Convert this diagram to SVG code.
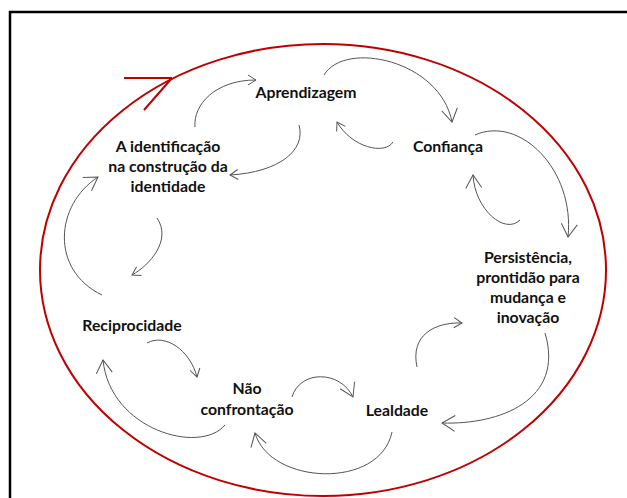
<svg xmlns="http://www.w3.org/2000/svg" width="627" height="498" viewBox="0 0 627 498">
<style>
.lbl{font-family:Lato,"Open Sans","Liberation Sans",sans-serif;font-weight:700;font-size:15.8px;fill:#111;text-anchor:middle}
.arc{fill:none;stroke:#555;stroke-width:1}
.head{fill:none;stroke:#555;stroke-width:1}
</style>
<defs>
<marker id="hs" markerUnits="userSpaceOnUse" orient="auto" overflow="visible" markerWidth="1" markerHeight="1">
<path class="head" d="M-8,-5 L0,0 L-8,5"/>
</marker>
<marker id="hl" markerUnits="userSpaceOnUse" orient="auto" overflow="visible" markerWidth="1" markerHeight="1">
<path class="head" d="M-13,-8 L0,0 L-13,8"/>
</marker>
</defs>
<rect x="0" y="0" width="627" height="498" fill="#fff"/>
<rect x="10" y="12" width="640" height="520" fill="none" stroke="#000" stroke-width="2.5"/>
<ellipse cx="323" cy="270" rx="283" ry="226" fill="none" stroke="#c00000" stroke-width="2"/>
<g id="start-arrow" fill="none" stroke="#c00000" stroke-width="2">
<path d="M124,78 L172,78 M144,110 L172,78"/>
</g>
<g id="connectors">
<path class="arc" marker-end="url(#hs)" d="M195,127 C193,105 215,80 256,80"/>
<path class="arc" marker-end="url(#hs)" d="M299,125 C306,150 280,172 230,175"/>
<path class="arc" marker-end="url(#hl)" d="M324,75 C345,40 440,60 452,122"/>
<path class="arc" marker-end="url(#hs)" d="M393,142 C385,155 352,148 337,122"/>
<path class="arc" marker-end="url(#hl)" d="M475,135 C520,115 575,170 568,237"/>
<path class="arc" marker-end="url(#hl)" d="M520,220 C505,235 475,210 473,175"/>
<path class="arc" marker-end="url(#hl)" d="M102,295 C50,270 55,205 98,177"/>
<path class="arc" marker-end="url(#hs)" d="M157,218 C172,240 150,265 132,275"/>
<path class="arc" marker-end="url(#hs)" d="M147,343 C165,333 190,350 197,377"/>
<path class="arc" marker-end="url(#hl)" d="M225,425 C200,455 110,430 103,360"/>
<path class="arc" marker-end="url(#hl)" d="M292,397 C300,370 340,370 353,397"/>
<path class="arc" marker-end="url(#hl)" d="M392,432 C380,490 270,485 255,433"/>
<path class="arc" marker-end="url(#hs)" d="M417,367 C410,335 435,322 462,323"/>
<path class="arc" marker-end="url(#hl)" d="M545,333 C565,400 500,425 442,423"/>
</g>
<g id="aprendizagem"><text class="lbl" x="306" y="98">Aprendizagem</text></g>
<g id="confianca"><text class="lbl" x="448" y="152">Confiança</text></g>
<g id="identificacao"><text class="lbl" x="168" y="152">A identificação</text><text class="lbl" x="168" y="172">na construção da</text><text class="lbl" x="168" y="192">identidade</text></g>
<g id="persistencia"><text class="lbl" x="528" y="263">Persistência,</text><text class="lbl" x="528" y="283">prontidão para</text><text class="lbl" x="528" y="303">mudança e</text><text class="lbl" x="528" y="323">inovação</text></g>
<g id="reciprocidade"><text class="lbl" x="132" y="331">Reciprocidade</text></g>
<g id="nao-confrontacao"><text class="lbl" x="247" y="394">Não</text><text class="lbl" x="247" y="415">confrontação</text></g>
<g id="lealdade"><text class="lbl" x="397" y="416">Lealdade</text></g>
</svg>
